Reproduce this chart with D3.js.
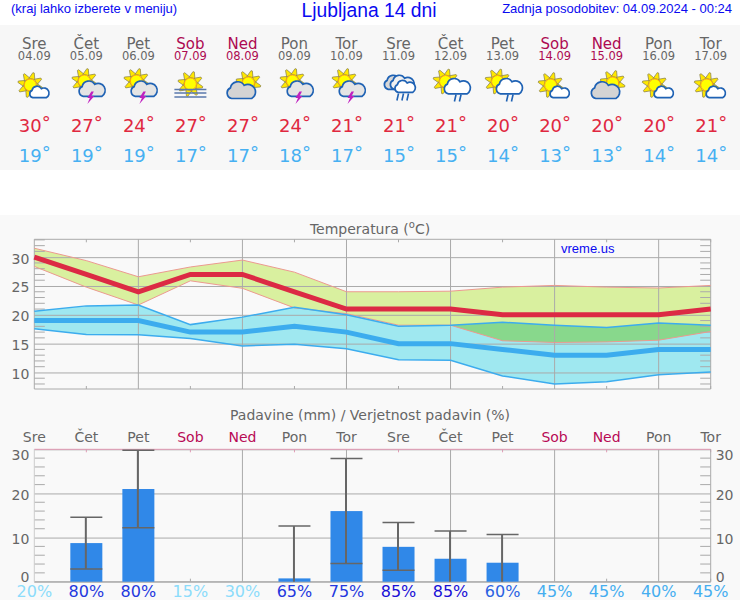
<!DOCTYPE html>
<html>
<head>
<meta charset="utf-8">
<script src="https://cdn.jsdelivr.net/npm/d3@7"></script>
<style>
  html, body { margin: 0; padding: 0; background: #fff; overflow: hidden; }
  svg { display: block; }
  text { font-family: "DejaVu Sans", sans-serif; }
  .head { font-family: "Liberation Sans", Arial, sans-serif; fill: #0a0af0; }
</style>
</head>
<body>
<svg id="chart" width="740" height="600"></svg>
<script>
const dayNames = ['Sre', 'Čet', 'Pet', 'Sob', 'Ned', 'Pon', 'Tor', 'Sre', 'Čet', 'Pet', 'Sob', 'Ned', 'Pon', 'Tor'];
const dates = ['04.09', '05.09', '06.09', '07.09', '08.09', '09.09', '10.09', '11.09', '12.09', '13.09', '14.09', '15.09', '16.09', '17.09'];
const icons = ['sunCloud', 'storm', 'storm', 'fog', 'cloudSun', 'storm', 'storm', 'rain', 'sunRain', 'sunRain', 'sunCloud', 'cloudSun', 'sunCloud', 'sunCloud'];

const tempMax = [30, 27, 24, 27, 27, 24, 21, 21, 21, 20, 20, 20, 20, 21];
const tempMin = [19, 19, 19, 17, 17, 18, 17, 15, 15, 14, 13, 13, 14, 14];
const maxUpper = [31.55, 29.4, 26.6, 28.3, 29.5, 27.4, 24, 24, 24.1, 24.8, 25.1, 24.8, 24.65, 25.1];
const maxLower = [28.4, 24.8, 21.7, 25.9, 24.6, 21.2, 20.2, 18.2, 18.2, 15.5, 15.2, 15.3, 15.6, 17.1];
const minUpper = [20.6, 21.55, 21.7, 18.3, 19.6, 21.3, 20, 18, 18.2, 18.7, 18.2, 17.8, 18.6, 18.2];
const minLower = [17.6, 16.6, 16.55, 15.9, 14.6, 14.9, 14.1, 12.2, 12.1, 9.4, 8, 8.4, 9.6, 10.1];

const rain = [0, 8.75, 21, 0, 0, 0.75, 16, 7.9, 5.2, 4.3, 0, 0, 0, 0];
const rainHigh = [null, 14.6, 29.8, null, null, 12.6, 27.9, 13.4, 11.5, 10.7, null, null, null, null];
const rainLow = [null, 2.9, 12.2, null, null, null, 4.15, 2.6, null, null, null, null, null, null];
const rainProb = [20, 80, 80, 15, 30, 65, 75, 85, 85, 60, 45, 45, 40, 45];

const tempTicks = [10, 15, 20, 25, 30];
const tempMinorTicks = [8, 9, 11, 12, 13, 14, 16, 17, 18, 19, 21, 22, 23, 24, 26, 27, 28, 29, 31, 32, 33];
const rainTicks = [0, 10, 20, 30];
const rainMinorTicks = [2, 4, 6, 8, 12, 14, 16, 18, 22, 24, 26, 28];

const svg = d3.select('#chart');
const grey = '#666', weekend = '#ad0a52', gridColor = '#aaa', minorColor = '#aaa', pink = '#e39ab5';
const red = '#dc2a44', blue = '#3cacee';
const isWeekend = (d) => d === 'Sob' || d === 'Ned';
const days = d3.range(dayNames.length);

const xScale = d3.scalePoint().domain(days).range([34.3, 710.7]);
const yTemp = d3.scaleLinear().domain([7.13, 33.1]).range([389, 239.3]);
const yRain = d3.scaleLinear().domain([0, 30]).range([581.7, 449.3]);
const probColor = d3.scaleThreshold().domain([35, 60, 65, 85]).range(['#8cdcfb', '#45aef0', '#2a62e2', '#2338de', '#1a10d6']);

// backgrounds
svg.append('rect').attr('x', 0).attr('y', 25).attr('width', 740).attr('height', 145).attr('fill', '#f7f7f7');
svg.append('rect').attr('x', 0).attr('y', 215).attr('width', 740).attr('height', 385).attr('fill', '#f9f9f9');

// header
svg.append('text').attr('class', 'head').attr('x', 11).attr('y', 13).attr('font-size', 13).text('(kraj lahko izberete v meniju)');
svg.append('text').attr('class', 'head').attr('x', 369).attr('y', 16.5).attr('font-size', 19.3).attr('text-anchor', 'middle').text('Ljubljana 14 dni');
svg.append('text').attr('class', 'head').attr('x', 732).attr('y', 13).attr('font-size', 13).attr('text-anchor', 'end').text('Zadnja posodobitev: 04.09.2024 - 00:24');

// day table
const table = svg.append('g').selectAll('g').data(days).join('g')
  .attr('transform', (i) => `translate(${xScale(i)},0)`)
  .attr('text-anchor', 'middle');
table.append('text').attr('y', 48.5).attr('font-size', 15)
  .attr('fill', (i) => isWeekend(dayNames[i]) ? weekend : grey)
  .text((i) => dayNames[i]);
table.append('text').attr('y', 60).attr('font-size', 11.5)
  .attr('fill', (i) => isWeekend(dayNames[i]) ? weekend : grey)
  .text((i) => dates[i]);
table.append('text').attr('y', 132).attr('x', 0.5).attr('font-size', 18).attr('fill', '#e0283f')
  .call(degreeText, tempMax);
table.append('text').attr('y', 162).attr('x', 0.5).attr('font-size', 18).attr('fill', '#46b0f2')
  .call(degreeText, tempMin);
table.each(function(i) { drawIcon(d3.select(this), icons[i]); });

function degreeText(sel, values) {
  sel.append('tspan').text((i) => values[i]);
  sel.append('tspan').attr('dy', -3).text('°');
}

// temperature chart
svg.append('text').attr('x', 370).attr('y', 233.5).attr('font-size', 14).attr('text-anchor', 'middle').attr('fill', grey)
  .call((t) => {
    t.append('tspan').text('Temperatura (');
    t.append('tspan').attr('font-size', 10).attr('dy', -6).text('o');
    t.append('tspan').attr('dy', 6).text('C)');
  });

let bandArea = (upper, lower) => d3.area()
  .x((i) => xScale(i))
  .y0((i) => yTemp(lower[i]))
  .y1((i) => yTemp(upper[i]));
let edgeLine = (values) => d3.line().x((i) => xScale(i)).y((i) => yTemp(values[i]));

svg.append('clipPath').attr('id', 'min-band').append('path').datum(days).attr('d', bandArea(minUpper, minLower));

svg.append('path').datum(days).attr('fill', '#d9f09f').attr('d', bandArea(maxUpper, maxLower));
svg.append('path').datum(days).attr('fill', '#9fe8f0').attr('d', bandArea(minUpper, minLower));
svg.append('path').datum(days).attr('fill', '#88d88c').attr('clip-path', 'url(#min-band)').attr('d', bandArea(maxUpper, maxLower));

drawFrame(yTemp, tempTicks, tempMinorTicks, 239.3, 389, false);

[maxUpper, maxLower].forEach((s) => {
  svg.append('path').datum(days).attr('fill', 'none').attr('stroke', '#ec9a90').attr('stroke-width', 1).attr('d', edgeLine(s));
});
[minUpper, minLower].forEach((s) => {
  svg.append('path').datum(days).attr('fill', 'none').attr('stroke', blue).attr('stroke-width', 1.5).attr('d', edgeLine(s));
});
svg.append('path').datum(days).attr('fill', 'none').attr('stroke', blue).attr('stroke-width', 5).attr('d', edgeLine(tempMin));
svg.append('path').datum(days).attr('fill', 'none').attr('stroke', red).attr('stroke-width', 5).attr('d', edgeLine(tempMax));

svg.append('text').attr('class', 'head').attr('x', 561).attr('y', 253).attr('font-size', 13).text('vreme.us');

// precipitation chart
svg.append('text').attr('x', 370).attr('y', 420).attr('font-size', 14).attr('text-anchor', 'middle').attr('fill', grey)
  .text('Padavine (mm) / Verjetnost padavin (%)');
svg.append('g').attr('text-anchor', 'middle').selectAll('text').data(days).join('text')
  .attr('x', (i) => xScale(i))
  .attr('y', 442)
  .attr('font-size', 14)
  .attr('fill', (i) => isWeekend(dayNames[i]) ? '#b80a55' : grey)
  .text((i) => dayNames[i]);

drawFrame(yRain, rainTicks, rainMinorTicks, 449.3, 581.7, true);

const barWidth = 32;
const rainDays = days.filter((i) => rain[i] > 0);
svg.append('g').selectAll('rect').data(rainDays).join('rect')
  .attr('x', (i) => xScale(i) - barWidth / 2)
  .attr('y', (i) => yRain(rain[i]))
  .attr('width', barWidth)
  .attr('height', (i) => yRain(0) - yRain(rain[i]))
  .attr('fill', '#3088e8');

const whisker = svg.append('g').attr('stroke', '#666');
whisker.selectAll('.stem').data(rainDays).join('line').attr('class', 'stem')
  .attr('stroke-width', 2)
  .attr('x1', (i) => xScale(i) - 0.5).attr('x2', (i) => xScale(i) - 0.5)
  .attr('y1', (i) => yRain(rainHigh[i]))
  .attr('y2', (i) => yRain(rainLow[i] === null ? 0 : rainLow[i]));
whisker.selectAll('.cap-high').data(rainDays).join('line').attr('class', 'cap-high')
  .attr('stroke-width', 1.5)
  .attr('x1', (i) => xScale(i) - barWidth / 2).attr('x2', (i) => xScale(i) + barWidth / 2)
  .attr('y1', (i) => yRain(rainHigh[i])).attr('y2', (i) => yRain(rainHigh[i]));
whisker.selectAll('.cap-low').data(rainDays.filter((i) => rainLow[i] !== null)).join('line').attr('class', 'cap-low')
  .attr('stroke-width', 1.5)
  .attr('x1', (i) => xScale(i) - barWidth / 2).attr('x2', (i) => xScale(i) + barWidth / 2)
  .attr('y1', (i) => yRain(rainLow[i])).attr('y2', (i) => yRain(rainLow[i]));

svg.append('g').attr('text-anchor', 'middle').selectAll('text').data(days).join('text')
  .attr('x', (i) => xScale(i))
  .attr('y', 596.5)
  .attr('font-size', 16)
  .attr('fill', (i) => probColor(rainProb[i]))
  .text((i) => rainProb[i] + '%');

function drawFrame(yScale, ticks, minorTicks, top, bottom, rightLabels) {
  let left = 34.3, right = 710.7;
  let isRain = rightLabels;
  let labelDy = (d) => {
    if (!isRain) return 1.5;
    if (d === 30) return 5.5;
    if (d === 0) return -5;
    return 1.5;
  };
  let frame = svg.append('g');

  // vertical grid on every second day, short marks between
  frame.selectAll('.vgrid').data(days.filter((i) => i % 2 === 0 && i > 0)).join('line').attr('class', 'vgrid')
    .attr('x1', (i) => xScale(i)).attr('x2', (i) => xScale(i))
    .attr('y1', top).attr('y2', bottom)
    .attr('stroke', gridColor);
  frame.selectAll('.vtick-top').data(days.filter((i) => i % 2 === 1)).join('line').attr('class', 'vtick-top')
    .attr('x1', (i) => xScale(i)).attr('x2', (i) => xScale(i))
    .attr('y1', top).attr('y2', top + 3)
    .attr('stroke', isRain ? pink : gridColor);
  frame.selectAll('.vtick-bottom').data(days.filter((i) => i % 2 === 1)).join('line').attr('class', 'vtick-bottom')
    .attr('x1', (i) => xScale(i)).attr('x2', (i) => xScale(i))
    .attr('y1', bottom).attr('y2', bottom - 3)
    .attr('stroke', gridColor);

  // major grid and labels
  let major = frame.append('g')
    .attr('transform', `translate(${left},0)`)
    .call(d3.axisLeft(yScale).tickValues(ticks).tickSize(-(right - left)).tickFormat(d3.format('d')));
  major.select('.domain').remove();
  major.selectAll('text').attr('fill', grey).attr('x', -5).attr('dy', (d) => `${0.32 + labelDy(d) / 14}em`).style('font-size', '14px');
  major.selectAll('line').attr('stroke', gridColor);

  // short minor ticks inside both edges
  [[left, 1], [right, -1]].forEach(([edge, dir]) => {
    frame.append('g').selectAll('line').data(minorTicks).join('line')
      .attr('x1', edge).attr('x2', edge + dir * 10.5)
      .attr('y1', (d) => yScale(d)).attr('y2', (d) => yScale(d))
      .attr('stroke', minorColor)
      .attr('stroke-width', 1);
  });

  if (rightLabels) {
    let labelsRight = frame.append('g')
      .attr('transform', `translate(${right},0)`)
      .call(d3.axisRight(yScale).tickValues(ticks).tickSize(0).tickFormat(d3.format('d')));
    labelsRight.select('.domain').remove();
    labelsRight.selectAll('text').attr('fill', grey).attr('x', 5).attr('dy', (d) => `${0.32 + labelDy(d) / 14}em`).style('font-size', '14px');
  }

  // border
  frame.append('line').attr('x1', left).attr('x2', right).attr('y1', top).attr('y2', top).attr('stroke', isRain ? pink : gridColor);
  frame.append('line').attr('x1', left).attr('x2', right).attr('y1', bottom).attr('y2', bottom).attr('stroke', gridColor);
  frame.append('line').attr('x1', left).attr('x2', left).attr('y1', top).attr('y2', bottom).attr('stroke', isRain ? '#ccc' : gridColor);
  frame.append('line').attr('x1', right).attr('x2', right).attr('y1', top).attr('y2', bottom).attr('stroke', gridColor);
}

function drawSun(g, cx, cy, r) {
  let sun = g.append('g').attr('transform', `translate(${cx},${cy})`);
  sun.selectAll('path').data(d3.range(8)).join('path')
    .attr('transform', (k) => `rotate(${k * 45 + 15})`)
    .attr('d', `M${-r * 0.5},${-r * 1.05} L${-r * 0.12},${-r * 2.1} L${r * 0.12},${-r * 2.1} L${r * 0.5},${-r * 1.05} Z`)
    .attr('fill', '#ffe800')
    .attr('stroke', '#8c8450')
    .attr('stroke-width', 0.7);
  sun.append('circle').attr('r', r).attr('fill', '#ffff00').attr('stroke', '#ffa500').attr('stroke-width', 1);
}

function drawCloud(g, cx, cy, scale, fill) {
  g.append('path')
    .attr('transform', `translate(${cx},${cy}) scale(${scale})`)
    .attr('d', 'M-7,6 A4.5,4.5 0 0 1 -8,-2.5 A6,6 0 0 1 3,-4.5 A5,5 0 0 1 9,6 Z')
    .attr('fill', fill)
    .attr('stroke', '#1f62b4')
    .attr('stroke-width', 1.7 / scale);
}

function drawBolt(g, cx, cy) {
  g.append('path')
    .attr('transform', `translate(${cx},${cy})`)
    .attr('d', 'M1,-6 L-3,0.5 L-0.5,0.5 L-3,6.5 L4,-1.5 L1.2,-1.5 L3.5,-6 Z')
    .attr('fill', '#c020c0');
}

function drawDrops(g, cx, cy, count) {
  d3.range(count).forEach((k) => {
    let dx = cx + (k - (count - 1) / 2) * 5;
    g.append('line')
      .attr('x1', dx + 1).attr('x2', dx - 0.6)
      .attr('y1', cy - 3.5).attr('y2', cy + 3.5)
      .attr('stroke', '#1f62b4').attr('stroke-width', 1.6);
  });
}

function drawIcon(g, type) {
  if (type === 'sunCloud') {
    drawSun(g, -4, 85, 6);
    drawCloud(g, 4.5, 92.5, 0.85, '#fff');
  } else if (type === 'storm') {
    drawSun(g, -2, 81, 6);
    drawCloud(g, 5, 89.5, 1.15, '#e4e4e4');
    drawBolt(g, 4, 97.5);
  } else if (type === 'fog') {
    drawSun(g, 0, 84, 6);
    [89.5, 93, 97].forEach((y) => {
      g.append('line').attr('x1', -16).attr('x2', 16).attr('y1', y).attr('y2', y)
        .attr('stroke', '#5a78ac').attr('stroke-width', 1.4);
    });
  } else if (type === 'cloudSun') {
    drawSun(g, 6, 83, 6);
    drawCloud(g, -2, 91, 1.25, '#d4d4d4');
  } else if (type === 'rain') {
    drawCloud(g, -3, 83, 1.05, '#d8d8d8');
    drawCloud(g, 3, 83, 1.05, '#f0f0f0');
    drawCloud(g, 6, 87, 0.9, '#fff');
    drawDrops(g, 4, 97, 3);
  } else if (type === 'sunRain') {
    drawSun(g, -5, 81.5, 6);
    drawCloud(g, 6, 87, 1.15, '#fff');
    drawDrops(g, 7, 98, 2);
  }
}
</script>
</body>
</html>
